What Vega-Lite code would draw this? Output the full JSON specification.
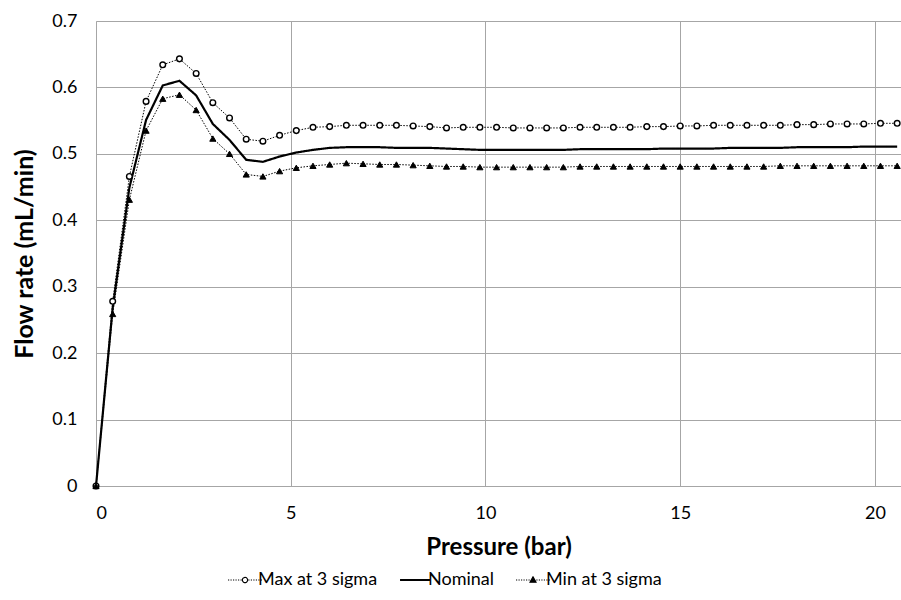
{
  "$schema": "https://vega.github.io/schema/vega-lite/v6.json",
  "width": 805,
  "height": 465,
  "autosize": {"type": "none"},
  "padding": {"left": 96, "top": 21, "right": 0, "bottom": 114},
  "background": "white",
  "config": {
    "view": {"stroke": null},
    "font": "Lato",
    "axis": {
      "grid": true,
      "gridColor": "#a6a6a6",
      "gridWidth": 1,
      "domainColor": "#a6a6a6",
      "domainWidth": 1,
      "ticks": false,
      "labelFont": "Lato",
      "labelFontSize": 18,
      "labelColor": "#000000",
      "titleFont": "Lato",
      "titleFontWeight": "bold",
      "titleColor": "#000000"
    }
  },
  "data": {
    "values": [
      {"p": 0, "Max at 3 sigma": 0, "Nominal": 0, "Min at 3 sigma": 0},
      {"p": 0.4286, "Max at 3 sigma": 0.278, "Nominal": 0.268, "Min at 3 sigma": 0.259},
      {"p": 0.8571, "Max at 3 sigma": 0.466, "Nominal": 0.449, "Min at 3 sigma": 0.431},
      {"p": 1.2857, "Max at 3 sigma": 0.579, "Nominal": 0.551, "Min at 3 sigma": 0.535},
      {"p": 1.7143, "Max at 3 sigma": 0.634, "Nominal": 0.603, "Min at 3 sigma": 0.583},
      {"p": 2.1429, "Max at 3 sigma": 0.643, "Nominal": 0.61, "Min at 3 sigma": 0.589},
      {"p": 2.5714, "Max at 3 sigma": 0.621, "Nominal": 0.588, "Min at 3 sigma": 0.566},
      {"p": 3, "Max at 3 sigma": 0.577, "Nominal": 0.545, "Min at 3 sigma": 0.523},
      {"p": 3.4286, "Max at 3 sigma": 0.554, "Nominal": 0.521, "Min at 3 sigma": 0.5},
      {"p": 3.8571, "Max at 3 sigma": 0.522, "Nominal": 0.491, "Min at 3 sigma": 0.469},
      {"p": 4.2857, "Max at 3 sigma": 0.519, "Nominal": 0.488, "Min at 3 sigma": 0.466},
      {"p": 4.7143, "Max at 3 sigma": 0.528, "Nominal": 0.496, "Min at 3 sigma": 0.474},
      {"p": 5.1429, "Max at 3 sigma": 0.535, "Nominal": 0.502, "Min at 3 sigma": 0.479},
      {"p": 5.5714, "Max at 3 sigma": 0.54, "Nominal": 0.506, "Min at 3 sigma": 0.482},
      {"p": 6, "Max at 3 sigma": 0.541, "Nominal": 0.509, "Min at 3 sigma": 0.484},
      {"p": 6.4286, "Max at 3 sigma": 0.543, "Nominal": 0.51, "Min at 3 sigma": 0.486},
      {"p": 6.8571, "Max at 3 sigma": 0.543, "Nominal": 0.51, "Min at 3 sigma": 0.485},
      {"p": 7.2857, "Max at 3 sigma": 0.543, "Nominal": 0.51, "Min at 3 sigma": 0.484},
      {"p": 7.7143, "Max at 3 sigma": 0.543, "Nominal": 0.509, "Min at 3 sigma": 0.484},
      {"p": 8.1429, "Max at 3 sigma": 0.542, "Nominal": 0.509, "Min at 3 sigma": 0.483},
      {"p": 8.5714, "Max at 3 sigma": 0.541, "Nominal": 0.509, "Min at 3 sigma": 0.482},
      {"p": 9, "Max at 3 sigma": 0.539, "Nominal": 0.508, "Min at 3 sigma": 0.481},
      {"p": 9.4286, "Max at 3 sigma": 0.54, "Nominal": 0.507, "Min at 3 sigma": 0.481},
      {"p": 9.8571, "Max at 3 sigma": 0.54, "Nominal": 0.506, "Min at 3 sigma": 0.48},
      {"p": 10.2857, "Max at 3 sigma": 0.54, "Nominal": 0.506, "Min at 3 sigma": 0.48},
      {"p": 10.7143, "Max at 3 sigma": 0.539, "Nominal": 0.506, "Min at 3 sigma": 0.48},
      {"p": 11.1429, "Max at 3 sigma": 0.539, "Nominal": 0.506, "Min at 3 sigma": 0.48},
      {"p": 11.5714, "Max at 3 sigma": 0.539, "Nominal": 0.506, "Min at 3 sigma": 0.48},
      {"p": 12, "Max at 3 sigma": 0.539, "Nominal": 0.506, "Min at 3 sigma": 0.48},
      {"p": 12.4286, "Max at 3 sigma": 0.54, "Nominal": 0.507, "Min at 3 sigma": 0.481},
      {"p": 12.8571, "Max at 3 sigma": 0.54, "Nominal": 0.507, "Min at 3 sigma": 0.481},
      {"p": 13.2857, "Max at 3 sigma": 0.54, "Nominal": 0.507, "Min at 3 sigma": 0.481},
      {"p": 13.7143, "Max at 3 sigma": 0.54, "Nominal": 0.507, "Min at 3 sigma": 0.481},
      {"p": 14.1429, "Max at 3 sigma": 0.541, "Nominal": 0.507, "Min at 3 sigma": 0.481},
      {"p": 14.5714, "Max at 3 sigma": 0.541, "Nominal": 0.508, "Min at 3 sigma": 0.481},
      {"p": 15, "Max at 3 sigma": 0.542, "Nominal": 0.508, "Min at 3 sigma": 0.481},
      {"p": 15.4286, "Max at 3 sigma": 0.542, "Nominal": 0.508, "Min at 3 sigma": 0.481},
      {"p": 15.8571, "Max at 3 sigma": 0.543, "Nominal": 0.508, "Min at 3 sigma": 0.481},
      {"p": 16.2857, "Max at 3 sigma": 0.543, "Nominal": 0.509, "Min at 3 sigma": 0.481},
      {"p": 16.7143, "Max at 3 sigma": 0.543, "Nominal": 0.509, "Min at 3 sigma": 0.481},
      {"p": 17.1429, "Max at 3 sigma": 0.543, "Nominal": 0.509, "Min at 3 sigma": 0.481},
      {"p": 17.5714, "Max at 3 sigma": 0.543, "Nominal": 0.509, "Min at 3 sigma": 0.482},
      {"p": 18, "Max at 3 sigma": 0.544, "Nominal": 0.51, "Min at 3 sigma": 0.482},
      {"p": 18.4286, "Max at 3 sigma": 0.544, "Nominal": 0.51, "Min at 3 sigma": 0.482},
      {"p": 18.8571, "Max at 3 sigma": 0.545, "Nominal": 0.51, "Min at 3 sigma": 0.482},
      {"p": 19.2857, "Max at 3 sigma": 0.545, "Nominal": 0.51, "Min at 3 sigma": 0.482},
      {"p": 19.7143, "Max at 3 sigma": 0.545, "Nominal": 0.511, "Min at 3 sigma": 0.482},
      {"p": 20.1429, "Max at 3 sigma": 0.546, "Nominal": 0.511, "Min at 3 sigma": 0.482},
      {"p": 20.5714, "Max at 3 sigma": 0.546, "Nominal": 0.511, "Min at 3 sigma": 0.482}
    ]
  },
  "transform": [
    {"fold": ["Max at 3 sigma", "Nominal", "Min at 3 sigma"], "as": ["series", "flow"]}
  ],
  "encoding": {
    "x": {
      "field": "p",
      "type": "quantitative",
      "scale": {"domain": [0, 20.67], "nice": false, "zero": false},
      "axis": {
        "values": [0, 5, 10, 15, 20],
        "title": "Pressure (bar)",
        "titleFontSize": 24,
        "labelPadding": 18,
        "titlePadding": 13
      }
    },
    "y": {
      "field": "flow",
      "type": "quantitative",
      "scale": {"domain": [0, 0.7], "nice": false},
      "axis": {
        "values": [0, 0.1, 0.2, 0.3, 0.4, 0.5, 0.6, 0.7],
        "format": ".1~f",
        "title": "Flow rate (mL/min)",
        "titleFontSize": 25,
        "labelPadding": 19,
        "titlePadding": 14
      }
    }
  },
  "layer": [
    {
      "mark": {"type": "line"},
      "encoding": {
        "detail": {"field": "series", "type": "nominal"},
        "color": {
          "field": "series",
          "type": "nominal",
          "sort": ["Max at 3 sigma", "Nominal", "Min at 3 sigma"],
          "scale": {
            "domain": ["Max at 3 sigma", "Nominal", "Min at 3 sigma"],
            "range": ["#000000", "#000000", "#000000"]
          },
          "legend": {
            "title": null,
            "orient": "none",
            "legendX": 140,
            "legendY": 550,
            "direction": "horizontal",
            "labelFont": "Lato",
            "labelFontSize": 18,
            "labelColor": "#000000",
            "labelOffset": 4,
            "columnPadding": 18,
            "symbolSize": 1156,
            "encode": {
              "symbols": {
                "update": {
                  "shape": {"signal": "datum.value === 'Nominal' ? 'M-0.88,0H0.88' : datum.value === 'Max at 3 sigma' ? 'M-1,0H-0.93M-0.853,0H-0.783M-0.706,0H-0.636M-0.559,0H-0.489M-0.412,0H-0.342M-0.265,0H-0.195M0.195,0H0.265M0.342,0H0.412M0.489,0H0.559M0.636,0H0.706M0.783,0H0.853M0.93,0H1M-0.153,0A0.153,0.153 0 1,0 0.153,0A0.153,0.153 0 1,0 -0.153,0Z' : 'M-1,0H-0.93M-0.853,0H-0.783M-0.706,0H-0.636M-0.559,0H-0.489M-0.412,0H-0.342M-0.265,0H-0.195M0.195,0H0.265M0.342,0H0.412M0.489,0H0.559M0.636,0H0.706M0.783,0H0.853M0.93,0H1M0,-0.19L0.18,0.13L-0.18,0.13Z'"},
                  "size": {"value": 1156},
                  "fill": {"signal": "datum.value === 'Min at 3 sigma' ? '#000000' : '#ffffff'"},
                  "strokeWidth": {"signal": "datum.value === 'Nominal' ? 2 : 1.1"},
                  "strokeDash": {"value": [1, 0]},
                  "opacity": {"value": 1},
                  "fillOpacity": {"value": 1},
                  "strokeOpacity": {"value": 1}
                }
              }
            }
          }
        },
        "strokeDash": {
          "condition": {"test": "datum.series === 'Nominal'", "value": [1, 0]},
          "value": [1.5, 1.5]
        },
        "strokeWidth": {
          "condition": {"test": "datum.series === 'Nominal'", "value": 2.2},
          "value": 1
        }
      }
    },
    {
      "transform": [{"filter": "datum.series === 'Max at 3 sigma'"}],
      "mark": {"type": "point", "shape": "circle", "filled": true, "fill": "#ffffff", "stroke": "#000000", "strokeWidth": 1.4, "size": 32, "opacity": 1}
    },
    {
      "transform": [{"filter": "datum.series === 'Min at 3 sigma'"}],
      "mark": {"type": "point", "shape": "triangle-up", "filled": true, "fill": "#000000", "stroke": "#000000", "strokeWidth": 1, "size": 38, "opacity": 1}
    }
  ]
}
